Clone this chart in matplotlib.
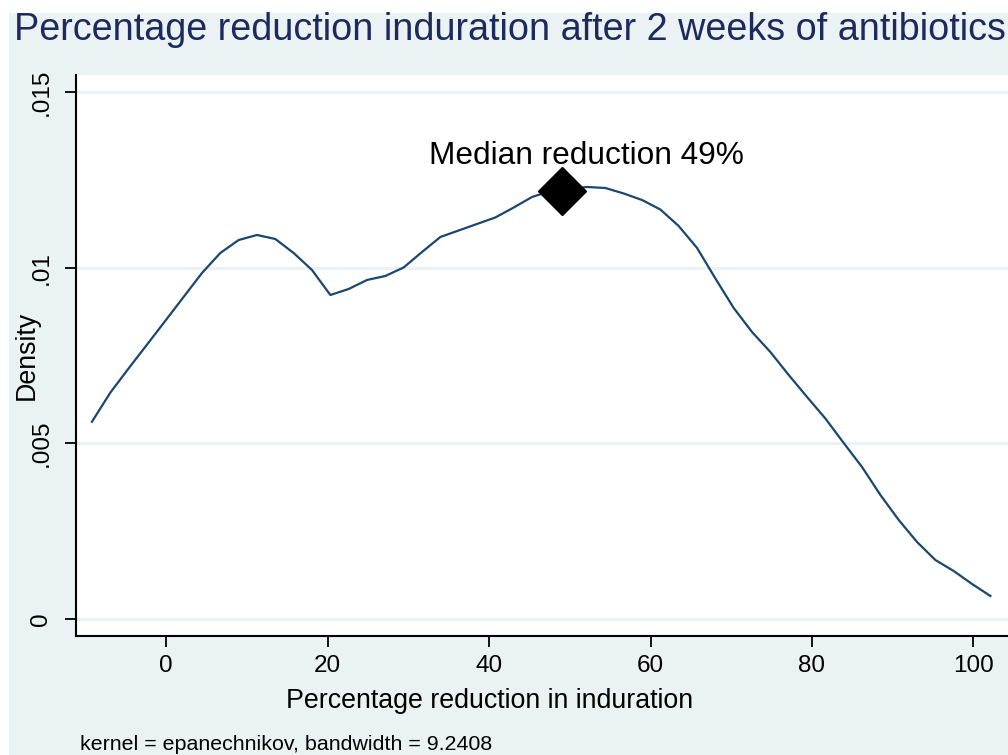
import matplotlib
matplotlib.use("Agg")
import matplotlib.pyplot as plt
import matplotlib.patches as patches

plt.rcParams['font.family'] = ['Liberation Sans', 'DejaVu Sans']

# kernel density estimate (50 evaluation points)
reduction = [-9.21, -6.94, -4.67, -2.39, -0.12, 2.15, 4.42, 6.69, 8.97, 11.24,
             13.51, 15.78, 18.05, 20.33, 22.60, 24.87, 27.14, 29.41, 31.69, 33.96,
             36.23, 38.50, 40.77, 43.05, 45.32, 47.59, 49.86, 52.13, 54.41, 56.68,
             58.95, 61.22, 63.49, 65.77, 68.04, 70.31, 72.58, 74.85, 77.13, 79.40,
             81.67, 83.94, 86.21, 88.49, 90.76, 93.03, 95.30, 97.57, 99.85, 102.12]
density = [0.005615, 0.006441, 0.007132, 0.007809, 0.008487, 0.009167, 0.009847, 0.010416, 0.010786, 0.010929,
           0.010815, 0.010416, 0.009933, 0.009221, 0.009392, 0.009648, 0.009762, 0.010004, 0.010445, 0.010872,
           0.011057, 0.011242, 0.011427, 0.011711, 0.012010, 0.012181, 0.012238, 0.012295, 0.012266, 0.012110,
           0.011925, 0.011654, 0.011185, 0.010559, 0.009691, 0.008851, 0.008168, 0.007599, 0.006944, 0.006318,
           0.005706, 0.005009, 0.004326, 0.003529, 0.002818, 0.002191, 0.001679, 0.001366, 0.000996, 0.000655]

median_x = 49.0
median_y = 0.01218
median_label = "Median reduction 49%"

xticks = [0, 20, 40, 60, 80, 100]
yticks = [0, 0.005, 0.01, 0.015]
ytick_labels = ["0", ".005", ".01", ".015"]

bg = '#EAF2F3'
navy = '#1A476F'

W, H = 1008, 755
fig = plt.figure(figsize=(W / 100, H / 100), dpi=100, facecolor='white')
fig.patches.append(patches.Rectangle((9 / W, 0), 1, 1 - 13 / H,
                                     transform=fig.transFigure, facecolor=bg,
                                     edgecolor='none', zorder=-10))

# plot region runs off the right edge, as in the original
ax_l, ax_r, ax_t, ax_b = 76, 1008, 75, 636
ax = fig.add_axes([ax_l / W, 1 - ax_b / H, (ax_r - ax_l) / W, (ax_b - ax_t) / H])
ax.set_facecolor('white')
aw, ah = ax_r - ax_l, ax_b - ax_t

for yv in yticks:
    ax.axhline(yv, color=bg, lw=2.2, zorder=0)

ax.plot(reduction, density, color=navy, lw=1.6, zorder=2)
ax.plot([median_x], [median_y], marker='D', color='black', markersize=24,
        linestyle='none', zorder=3)
ax.annotate(median_label, xy=(median_x, median_y), xytext=(18, 25),
            textcoords='offset points', ha='center', va='center',
            fontsize=22.8, color='black')

ax.set_xlim(-11.19, 104.3)
ax.set_ylim(-0.000484, 0.015482)

ax.set_xticks(xticks)
ax.set_xticklabels([str(t) for t in xticks])
ax.set_yticks(yticks)
ax.set_yticklabels(ytick_labels, rotation=90, va='center')

ax.tick_params(axis='both', direction='out', length=8, width=1.3,
               color='black', labelsize=17.5, labelcolor='black')
ax.tick_params(axis='x', pad=6)
ax.tick_params(axis='y', pad=9)

for s in ['top', 'right']:
    ax.spines[s].set_visible(False)
for s in ['left', 'bottom']:
    ax.spines[s].set_linewidth(1.5)
    ax.spines[s].set_color('black')

ax.set_xlabel("Percentage reduction in induration", fontsize=19.3)
ax.xaxis.set_label_coords((490 - ax_l) / aw, -(688 - ax_b) / ah)
ax.set_ylabel("Density", fontsize=19.3)
ax.yaxis.set_label_coords(-(ax_l - 40) / aw, 0.5)

fig.text(14 / W, 1 - 40 / H, "Percentage reduction induration after 2 weeks of antibiotics",
         fontsize=27.2, color='#1F2A5C', ha='left', va='baseline')
fig.text(80 / W, 5 / H, "kernel = epanechnikov, bandwidth = 9.2408",
         fontsize=15.4, color='black', ha='left', va='baseline')

fig.savefig("out.png", dpi=100, facecolor=fig.get_facecolor())
